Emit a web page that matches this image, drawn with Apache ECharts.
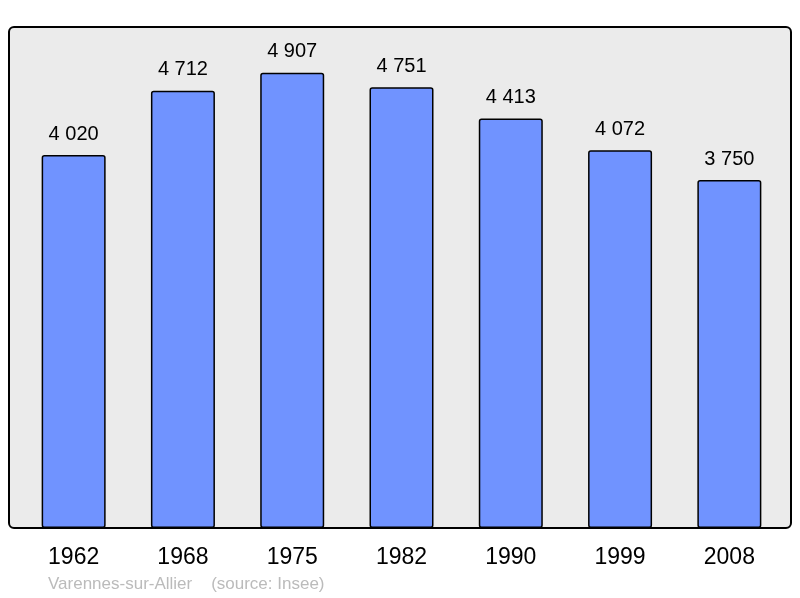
<html>
<head>
<meta http-equiv="Content-Type" content="text/html; charset=UTF-8">
<title>charts</title>
<script type="text/javascript" src="https://cdn.jsdelivr.net/npm/echarts@6/dist/echarts.min.js"></script>
</head>
<body style="margin:0">
<div id="echartspop" style="height:598px; width:800px"></div>
<script type="text/javascript">
var years = ['1962', '1968', '1975', '1982', '1990', '1999', '2008'];
var population = [4020, 4712, 4907, 4751, 4413, 4072, 3750];
var footerText = 'Varennes-sur-Allier    (source: Insee)';

var myChart = echarts.init(document.getElementById('echartspop'));

function fmt(v) {
    // thousands separated by a space
    return String(v).replace(/\B(?=(\d{3})+(?!\d))/g, ' ');
}

var option = {
    animation: false,
    textStyle: {fontFamily: 'Liberation Sans, Arial, sans-serif'},
    graphic: [
        {
            type: 'rect',
            z: -10,
            shape: {x: 9, y: 27, width: 782, height: 501, r: 5},
            style: {fill: '#ebebeb', stroke: '#000', lineWidth: 2}
        },
        {
            type: 'text',
            left: 48,
            top: 576,
            style: {text: footerText, fill: '#bbbbbb', font: '17px Liberation Sans, Arial, sans-serif'}
        }
    ],
    grid: {left: 19, right: 16, top: 27, bottom: 70},
    xAxis: {
        type: 'category',
        data: years,
        axisLine: {show: false},
        axisTick: {show: false},
        axisLabel: {color: '#000', fontSize: 23, margin: 18}
    },
    yAxis: {
        type: 'value',
        min: 0,
        max: 5400,
        show: false,
        splitLine: {show: false}
    },
    series: [{
        type: 'bar',
        data: population,
        barWidth: 64,
        itemStyle: {color: '#7093ff', borderColor: '#000', borderWidth: 1.5, borderRadius: 2},
        label: {
            show: true,
            position: 'top',
            distance: 11,
            color: '#000',
            fontSize: 20,
            formatter: function (p) { return fmt(p.value); }
        }
    }]
};
myChart.setOption(option);
</script>
</body>
</html>
